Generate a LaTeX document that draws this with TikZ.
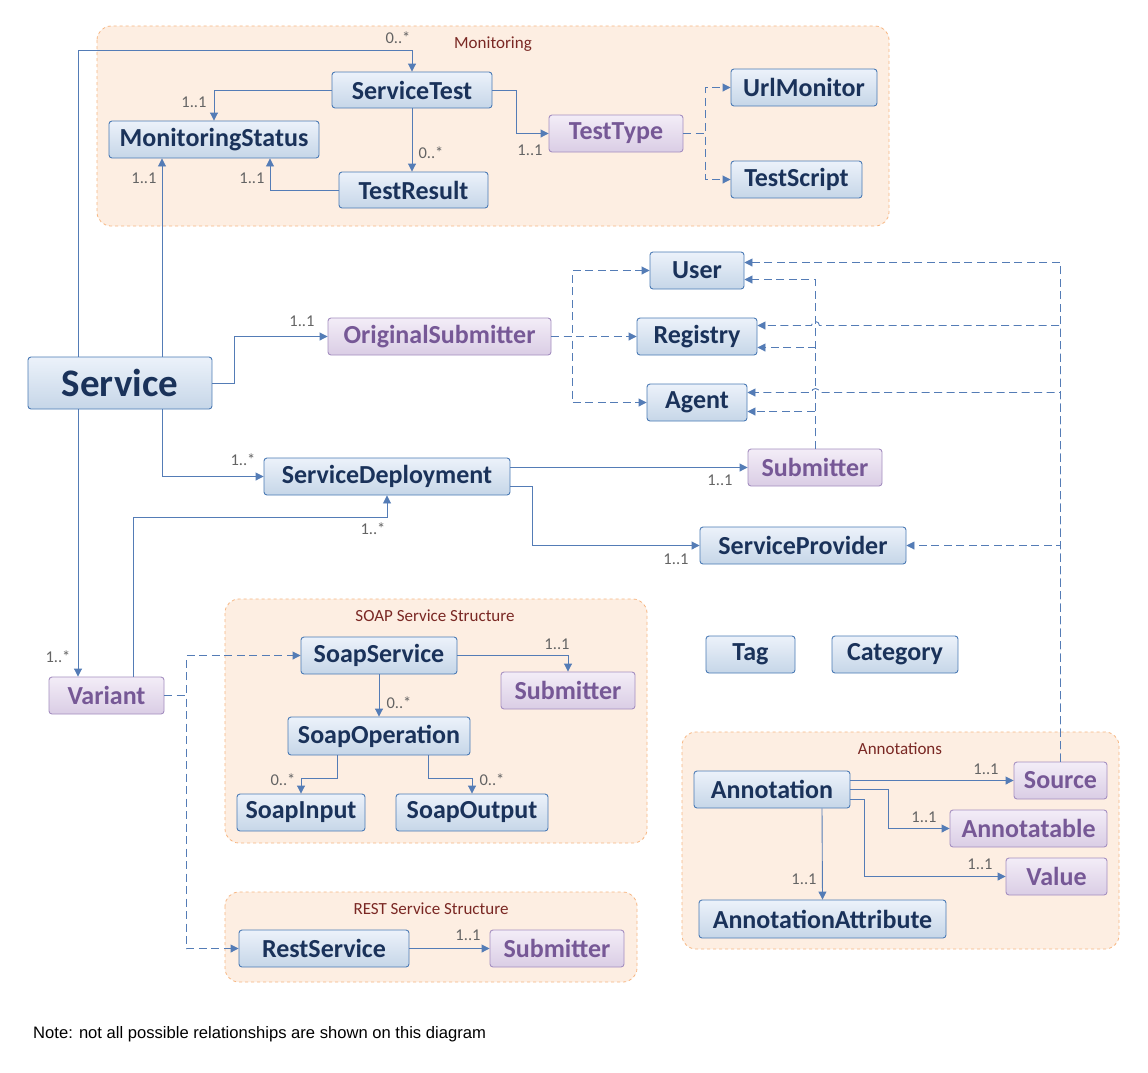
\documentclass[tikz,border=0pt]{standalone}
\usepackage{fontspec}
\setmainfont{Carlito}
\newfontfamily\notefont{Liberation Sans}
\usetikzlibrary{arrows.meta}
\definecolor{btop}{RGB}{236,242,250}
\definecolor{bbot}{RGB}{198,214,232}
\definecolor{bbord}{RGB}{74,122,181}
\definecolor{btext}{RGB}{26,50,90}
\definecolor{ptop}{RGB}{243,237,247}
\definecolor{pbot}{RGB}{218,205,229}
\definecolor{pbord}{RGB}{164,142,192}
\definecolor{ptext}{RGB}{118,88,150}
\definecolor{gfill}{RGB}{253,238,226}
\definecolor{gbord}{RGB}{247,182,130}
\definecolor{gtext}{RGB}{122,40,36}
\definecolor{econ}{RGB}{84,124,182}
\definecolor{mgray}{RGB}{100,100,100}
\tikzset{
  box/.style={draw=bbord, line width=0.9pt, rounded corners=3pt, top color=btop, bottom color=bbot, text=btext, font=\bfseries\fontsize{26}{28}\selectfont, inner sep=0pt},
  pbox/.style={box, draw=pbord, top color=ptop, bottom color=pbot, text=ptext},
  grp/.style={draw=gbord, dashed, fill=gfill, rounded corners=14pt, line width=0.8pt},
  gtitle/.style={text=gtext, font=\fontsize{17}{19}\selectfont, inner sep=0pt},
  conn/.style={draw=econ, line width=0.9pt, -{Triangle[length=8pt,width=8pt]}},
  dconn/.style={conn, dash pattern=on 8pt off 4.5pt},
  mult/.style={text=mgray, font=\fontsize{16.5}{18}\selectfont, inner sep=0pt},
}
\begin{document}
\begin{tikzpicture}[x=1pt,y=-1pt]
\useasboundingbox (0,0) rectangle (1148,1072);
\fill[white] (0,0) rectangle (1148,1072);

% groups
\draw[grp] (97,26) rectangle (889,226);
\node[gtitle] (tmon) at (493,44) {Monitoring};
\draw[grp] (225,599) rectangle (647,843);
\node[gtitle] (tsoap) at (435,616) {SOAP Service Structure};
\draw[grp] (225,892) rectangle (637,982);
\node[gtitle] (trest) at (431,909) {REST Service Structure};
\draw[grp] (682,732) rectangle (1119,949);
\node[gtitle] (tann) at (900,749) {Annotations};

% nodes
\node[box, minimum width=160, minimum height=36] (st) at (412,90) {ServiceTest};
\node[box, minimum width=210, minimum height=37] (ms) at (214,139.5) {MonitoringStatus};
\node[box, minimum width=149, minimum height=36] (tr) at (413.5,190) {TestResult};
\node[pbox, minimum width=134, minimum height=37] (tt) at (616,133.5) {TestType};
\node[box, minimum width=146, minimum height=37] (um) at (804,87.5) {UrlMonitor};
\node[box, minimum width=131, minimum height=37] (ts) at (796.5,179.5) {TestScript};
\node[box, minimum width=94, minimum height=37] (usr) at (697,270.5) {User};
\node[box, minimum width=120, minimum height=37] (reg) at (697,336.5) {Registry};
\node[box, minimum width=100, minimum height=37] (agt) at (697,402.5) {Agent};
\node[pbox, minimum width=223, minimum height=37] (os) at (439.5,336.5) {OriginalSubmitter};
\node[box, minimum width=184, minimum height=52, font=\bfseries\fontsize{39}{42}\selectfont] (svc) at (120,383) {Service};
\node[box, minimum width=246, minimum height=37] (sd) at (387,476.5) {ServiceDeployment};
\node[pbox, minimum width=134, minimum height=37] (sub) at (815,467.5) {Submitter};
\node[box, minimum width=206, minimum height=37] (sp) at (803,545.5) {ServiceProvider};
\node[pbox, minimum width=115, minimum height=37] (var) at (106.5,695.5) {Variant};
\node[box, minimum width=156, minimum height=37] (ss) at (379,655.5) {SoapService};
\node[pbox, minimum width=134, minimum height=37] (sub2) at (568,690.5) {Submitter};
\node[box, minimum width=182, minimum height=38] (so) at (379,736) {SoapOperation};
\node[box, minimum width=128, minimum height=37] (si) at (301,812.5) {SoapInput};
\node[box, minimum width=152, minimum height=37] (sout) at (472,812.5) {SoapOutput};
\node[box, minimum width=170, minimum height=37] (rs) at (324,948.5) {RestService};
\node[pbox, minimum width=134, minimum height=37] (sub3) at (557,948.5) {Submitter};
\node[box, minimum width=89, minimum height=37] (tag) at (750.5,654.5) {Tag};
\node[box, minimum width=126, minimum height=37] (cat) at (895,654.5) {Category};
\node[box, minimum width=156, minimum height=37] (ann) at (772,789.5) {Annotation};
\node[pbox, minimum width=93, minimum height=37] (src) at (1060.5,780.5) {Source};
\node[pbox, minimum width=157, minimum height=37] (anb) at (1028.5,828.5) {Annotatable};
\node[pbox, minimum width=101, minimum height=37] (val) at (1056.5,876.5) {Value};
\node[box, minimum width=247, minimum height=38] (aa) at (822.5,919) {AnnotationAttribute};

% monitoring connectors
\draw[conn] ([xshift=-42]svc.north) |- ([yshift=21]st.north) -- (st.north);
\node[mult] at (398,38) {0..*};
\draw[conn] (st.west) -| (ms.north);
\node[mult] at (194,102) {1..1};
\draw[conn] (st.south) -- (st.south |- tr.north);
\node[mult] at (431,153) {0..*};
\draw[conn] (tr.west) -| ([xshift=56]ms.south);
\node[mult] at (252,178) {1..1};
\draw[conn] ([xshift=42]svc.north) -- ([xshift=-52]ms.south);
\node[mult] at (144,178) {1..1};
\draw[conn] (st.east) -- ++(24,0) |- (tt.west);
\node[mult] at (530,150) {1..1};
\draw[dconn] (tt.east) -- ++(22,0) |- (um.west);
\draw[dconn] (tt.east) -- ++(22,0) |- (ts.west);

% service connectors
\draw[conn] (svc.east) -- ++(22,0) |- (os.west);
\node[mult] at (302,321) {1..1};
\draw[dconn] (os.east) -- (reg.west);
\draw[dconn] (os.east) -- ++(21,0) |- (usr.west);
\draw[dconn] (os.east) -- ++(21,0) |- (agt.west);
\draw[dconn] (sub.north) |- ([yshift=-9]usr.east);
\draw[dconn] (sub.north) |- ([yshift=-11]reg.east);
\draw[dconn] (sub.north) |- ([yshift=-9]agt.east);
\draw[dconn] (src.north) |- ([yshift=8]usr.east);
\draw[dconn] (src.north) |- ([xshift=62,yshift=11]reg.east) arc[start angle=0,end angle=180,radius=4pt] -- ([yshift=11]reg.east);
\draw[dconn] (src.north) |- ([xshift=72,yshift=10]agt.east) arc[start angle=0,end angle=180,radius=4pt] -- ([yshift=10]agt.east);
\draw[dconn] (src.north) |- (sp.east);

\draw[conn] ([xshift=42]svc.south) |- (sd.west);
\node[mult] at (243,460) {1..*};
\draw[conn] (sd.east |- sub.west) -- (sub.west);
\node[mult] at (720,480) {1..1};
\draw[conn] ([yshift=-10]sd.east) -- ++(22,0) |- (sp.west);
\node[mult] at (676,559) {1..1};
\draw[conn] ([xshift=27]var.north) |- ([yshift=-22]sd.south) -- (sd.south);
\node[mult] at (373,529) {1..*};
\draw[conn] ([xshift=-42]svc.south) -- ([xshift=-28.5]var.north);
\node[mult] at (58,657) {1..*};

% variant
\draw[dconn] (var.east) -- ++(22,0) |- (ss.west);
\draw[dconn] (var.east) -- ++(22,0) |- (rs.west);

% soap
\draw[conn] (ss.east) -| (sub2.north);
\node[mult] at (557,644) {1..1};
\draw[conn] (ss.south) -- (so.north);
\node[mult] at (399,703) {0..*};
\draw[conn] ([xshift=-42]so.south) -- ++(0,23) -| (si.north);
\node[mult] at (283,780) {0..*};
\draw[conn] ([xshift=49]so.south) -- ++(0,23) -| (sout.north);
\node[mult] at (492,780) {0..*};

% rest
\draw[conn] (rs.east) -- (sub3.west);
\node[mult] at (468,935) {1..1};

% annotations
\draw[conn] (ann.east |- src.west) -- (src.west);
\node[mult] at (986,769) {1..1};
\draw[conn] (ann.east) -- ++(38,0) |- (anb.west);
\node[mult] at (924,817) {1..1};
\draw[conn] ([yshift=-10]ann.east) -- ++(14,0) |- (val.west);
\node[mult] at (980,864) {1..1};
\draw[conn] ([xshift=50]ann.south) -- (aa.north);
\node[mult] at (804,879) {1..1};

\node[anchor=west, inner sep=0pt, font=\notefont\fontsize{16.6}{18}\selectfont] (note) at (33,1034) {Note: not all possible relationships are shown on this diagram};
\end{tikzpicture}
\end{document}
